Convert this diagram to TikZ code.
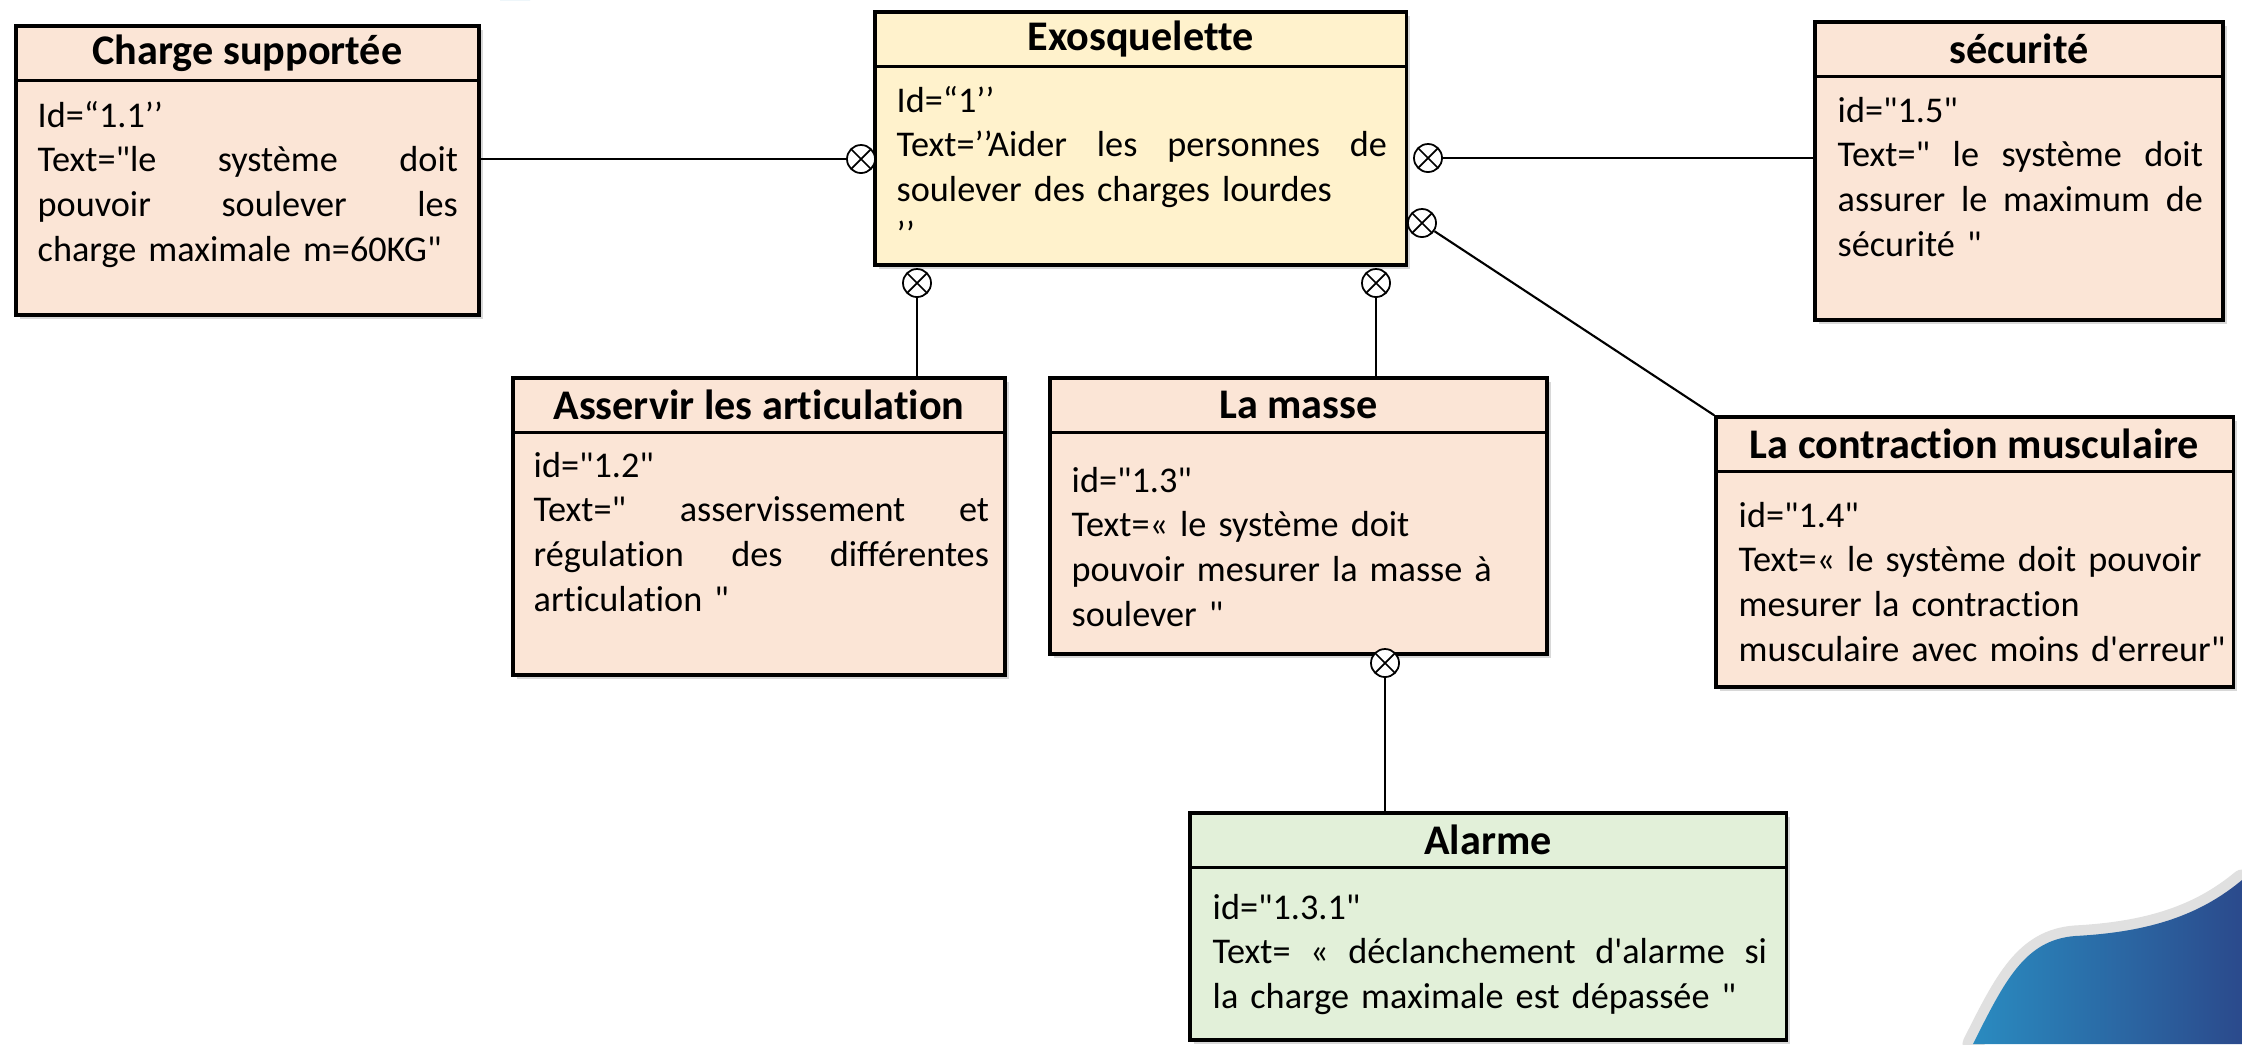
\documentclass[tikz,border=0pt]{standalone}
\usepackage{fontspec}
\setmainfont{Carlito}[Ligatures={TeXOff,NoCommon}]
\usetikzlibrary{positioning,shadows}
\definecolor{peach}{HTML}{FBE5D6}
\definecolor{cream}{HTML}{FFF2CC}
\definecolor{mint}{HTML}{E2F0D9}
\definecolor{waveA}{HTML}{2A8BC0}
\definecolor{waveB}{HTML}{2B4A8C}

% one justified line of a body text: width, words
\newcommand{\jl}[2]{{\spaceskip=0.226em plus 1fil\makebox[#1][s]{#2}}}

\tikzset{
  reqbox/.style={draw=black, line width=0.95pt, fill=#1, inner sep=0pt,
    drop shadow={opacity=0.3, shadow xshift=1.2pt, shadow yshift=-1.2pt}},
  reqtitle/.style={font=\fontsize{12}{14}\selectfont\bfseries, inner sep=0pt,
    minimum height=0.56cm},
  reqtext/.style={font=\fontsize{10.3}{12.7}\selectfont, align=left,
    inner sep=0pt, anchor=base west},
  xlink/.style={circle, draw, line width=0.5pt, fill=white, minimum size=0.28cm,
    inner sep=0pt, path picture={
      \draw[line width=0.5pt] (path picture bounding box.north west) -- (path picture bounding box.south east)
        (path picture bounding box.north east) -- (path picture bounding box.south west);}},
  link/.style={line width=0.6pt}
}

\begin{document}
\begin{tikzpicture}[x=0.01cm, y=-0.01cm]
  \fill[white] (0,0) rectangle (2242,1044);
  \useasboundingbox (0,0) rectangle (2242,1044);

  % slide decoration
  \draw[line width=6pt, black!12, line cap=round] (1973,1044)
    .. controls (2005,980) and (2025,940) .. (2075,936)
    .. controls (2150,932) and (2200,915) .. (2242,880);
  \shade[left color=waveA, right color=waveB] (1973,1044)
    .. controls (2005,980) and (2025,940) .. (2075,936)
    .. controls (2150,932) and (2200,915) .. (2242,880) -- (2242,1044) -- cycle;
  \fill[waveA!60] (500,0) arc[start angle=180, end angle=360, x radius=15, y radius=10] -- cycle;

  % boxes
  \node[reqbox=peach, minimum width=4.63cm, minimum height=2.89cm] (charge) at (247.5,170.5) {};
  \node[reqbox=cream, minimum width=5.31cm, minimum height=2.53cm] (exo) at (1140.5,138.5) {};
  \node[reqbox=peach, minimum width=4.08cm, minimum height=2.98cm] (secu) at (2019,171) {};
  \node[reqbox=peach, minimum width=4.92cm, minimum height=2.97cm] (asserv) at (759,526.5) {};
  \node[reqbox=peach, minimum width=4.97cm, minimum height=2.76cm] (masse) at (1298.5,516) {};
  \node[reqbox=peach, minimum width=5.17cm, minimum height=2.70cm] (contr) at (1974.5,552) {};
  \node[reqbox=mint, minimum width=5.96cm, minimum height=2.27cm] (alarme) at (1488,926.5) {};

  \foreach \b in {charge,exo,secu,asserv,masse,contr,alarme}
    \draw[line width=0.95pt] (\b.north west) ++(0,56) coordinate (s) -- (s -| \b.east);

  % titles
  \node[reqtitle, below=0pt of charge.north] (charge-t) {Charge supportée};
  \node[reqtitle, below=0pt of exo.north] (exo-t) {Exosquelette};
  \node[reqtitle, below=0pt of secu.north] (secu-t) {sécurité};
  \node[reqtitle, below=0pt of asserv.north] (asserv-t) {Asservir les articulation};
  \node[reqtitle, below=0pt of masse.north] (masse-t) {La masse};
  \node[reqtitle, below=0pt of contr.north] (contr-t) {La contraction musculaire};
  \node[reqtitle, below=0pt of alarme.north] (alarme-t) {Alarme};

  % texts
  \node[reqtext, text width=4.2cm] (charge-b) at (37,127) {
    Id=“1.1’’\\
    \jl{4.2cm}{Text="le système doit}\\
    \jl{4.2cm}{pouvoir soulever les}\\
    charge maximale m=60KG"};
  \node[reqtext, text width=4.9cm] (exo-b) at (896,112) {
    Id=“1’’\\
    \jl{4.9cm}{Text=’’Aider les personnes de}\\
    soulever des charges lourdes\\
    ’’};
  \node[reqtext, text width=3.65cm] (secu-b) at (1837,122) {
    id="1.5"\\
    \jl{3.65cm}{Text=" le système doit}\\
    \jl{3.65cm}{assurer le maximum de}\\
    sécurité "};
  \node[reqtext, text width=4.55cm] (asserv-b) at (533,477) {
    id="1.2"\\
    \jl{4.55cm}{Text=" asservissement et}\\
    \jl{4.55cm}{régulation des différentes}\\
    articulation "};
  \node[reqtext, text width=4.3cm] (masse-b) at (1071,492) {
    id="1.3"\\
    Text=« le système doit\\
    pouvoir mesurer la masse à\\
    soulever "};
  \node[reqtext, text width=5cm] (contr-b) at (1738,527) {
    id="1.4"\\
    Text=« le système doit pouvoir\\
    mesurer la contraction\\
    musculaire avec moins d'erreur"};
  \node[reqtext, text width=5.54cm] (alarme-b) at (1212,919) {
    id="1.3.1"\\
    \jl{5.54cm}{Text= « déclanchement d'alarme si}\\
    la charge maximale est dépassée "};

  % links
  \node[xlink] (x1) at (861,159) {};
  \node[xlink] (x2) at (1428,158) {};
  \node[xlink] (x3) at (1422,223) {};
  \node[xlink] (x4) at (917,283) {};
  \node[xlink] (x5) at (1376,283) {};
  \node[xlink] (x6) at (1385,663) {};
  \draw[link] (charge.east |- x1) -- (x1);
  \draw[link] (x2) -- (secu.west |- x2);
  \draw[link] (x3) -- (contr.north west);
  \draw[link] (x4) -- (asserv.north -| x4);
  \draw[link] (x5) -- (masse.north -| x5);
  \draw[link] (x6) -- (alarme.north -| x6);
\end{tikzpicture}
\end{document}
